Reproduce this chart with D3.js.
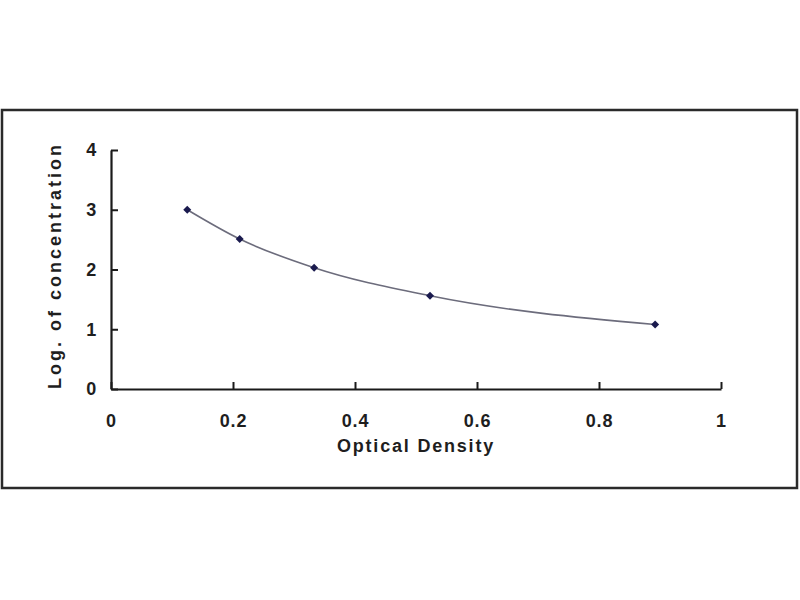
<!DOCTYPE html>
<html>
<head>
<meta charset="utf-8">
<script src="https://cdn.jsdelivr.net/npm/d3@7"></script>
<style>
  body { margin: 0; background: #fff; }
  text { font-family: "Liberation Sans", Arial, sans-serif; font-weight: bold; fill: #1e1e1e; }
</style>
</head>
<body>
<div id="chart"></div>
<script>
// Standard curve data
var opticalDensity = [0.125, 0.211, 0.333, 0.523, 0.892];
var logConcentration = [3.0, 2.51, 2.03, 1.56, 1.08];
// Tick values on both axes
var xTicks = [0, 0.2, 0.4, 0.6, 0.8, 1];
var yTicks = [0, 1, 2, 3, 4];
// Axis titles
var xTitle = "Optical Density";
var yTitle = "Log. of concentration";

var svgWidth = 800;
var svgHeight = 600;

// plot area inside the frame
var margin = { top: 150, right: 79, bottom: 211, left: 111 };
var chartWidth = svgWidth - margin.left - margin.right;
var chartHeight = svgHeight - margin.top - margin.bottom;

var svg = d3.select("#chart")
  .append("svg")
  .attr("width", svgWidth)
  .attr("height", svgHeight);

// outer frame round the chart
svg.append("rect")
  .attr("x", 2)
  .attr("y", 110)
  .attr("width", 795)
  .attr("height", 378)
  .attr("fill", "#fff")
  .attr("stroke", "#2a2a2a")
  .attr("stroke-width", 2.5);

var chartGroup = svg.append("g")
  .attr("transform", `translate(${margin.left}, ${margin.top})`);

var xScale = d3.scaleLinear()
  .domain([0, 1])
  .range([0, chartWidth]);

var yScale = d3.scaleLinear()
  .domain([0, 4])
  .range([chartHeight, 0]);

// axes with short inward ticks
var xAxis = d3.axisBottom(xScale)
  .tickValues(xTicks)
  .tickFormat(d3.format("~g"))
  .tickSizeInner(-7)
  .tickSizeOuter(0)
  .tickPadding(25);

var yAxis = d3.axisLeft(yScale)
  .tickValues(yTicks)
  .tickFormat(d3.format("d"))
  .tickSizeInner(-7)
  .tickSizeOuter(0)
  .tickPadding(14);

var xg = chartGroup.append("g")
  .attr("transform", `translate(0, ${chartHeight})`)
  .call(xAxis);

var yg = chartGroup.append("g")
  .call(yAxis);

// style both axes the same way
[xg, yg].forEach(g => {
  g.select(".domain").attr("stroke", "#1a1a1a").attr("stroke-width", 2.2);
  g.selectAll(".tick line").attr("stroke", "#1a1a1a").attr("stroke-width", 2);
  g.selectAll(".tick text")
    .attr("fill", "#1e1e1e")
    .style("font-size", "18px")
    .style("font-family", "'Liberation Sans', Arial, sans-serif")
    .style("font-weight", "bold")
    .style("letter-spacing", "0.8px");
});

// fitted curve through the points
var points = opticalDensity.map((d, i) => [d, logConcentration[i]]);

var line = d3.line()
  .x(d => xScale(d[0]))
  .y(d => yScale(d[1]))
  .curve(d3.curveMonotoneX);

chartGroup.append("path")
  .datum(points)
  .attr("d", line)
  .attr("fill", "none")
  .attr("stroke", "#6c6c7c")
  .attr("stroke-width", 1.6);

// diamond markers (square turned 45 degrees)
chartGroup.selectAll(".marker")
  .data(points)
  .enter().append("path")
  .attr("class", "marker")
  .attr("d", d3.symbol().type(d3.symbolSquare).size(32))
  .attr("transform", d => `translate(${xScale(d[0])}, ${yScale(d[1])}) rotate(45)`)
  .attr("fill", "#1a1a4e");

// axis titles
chartGroup.append("text")
  .attr("x", chartWidth / 2)
  .attr("y", chartHeight + 63)
  .attr("text-anchor", "middle")
  .style("font-size", "18px")
  .style("letter-spacing", "1.8px")
  .text(xTitle);

chartGroup.append("text")
  .attr("transform", `translate(-50, ${chartHeight / 2 - 4}) rotate(-90)`)
  .attr("text-anchor", "middle")
  .style("font-size", "18px")
  .style("letter-spacing", "3px")
  .text(yTitle);
</script>
</body>
</html>
